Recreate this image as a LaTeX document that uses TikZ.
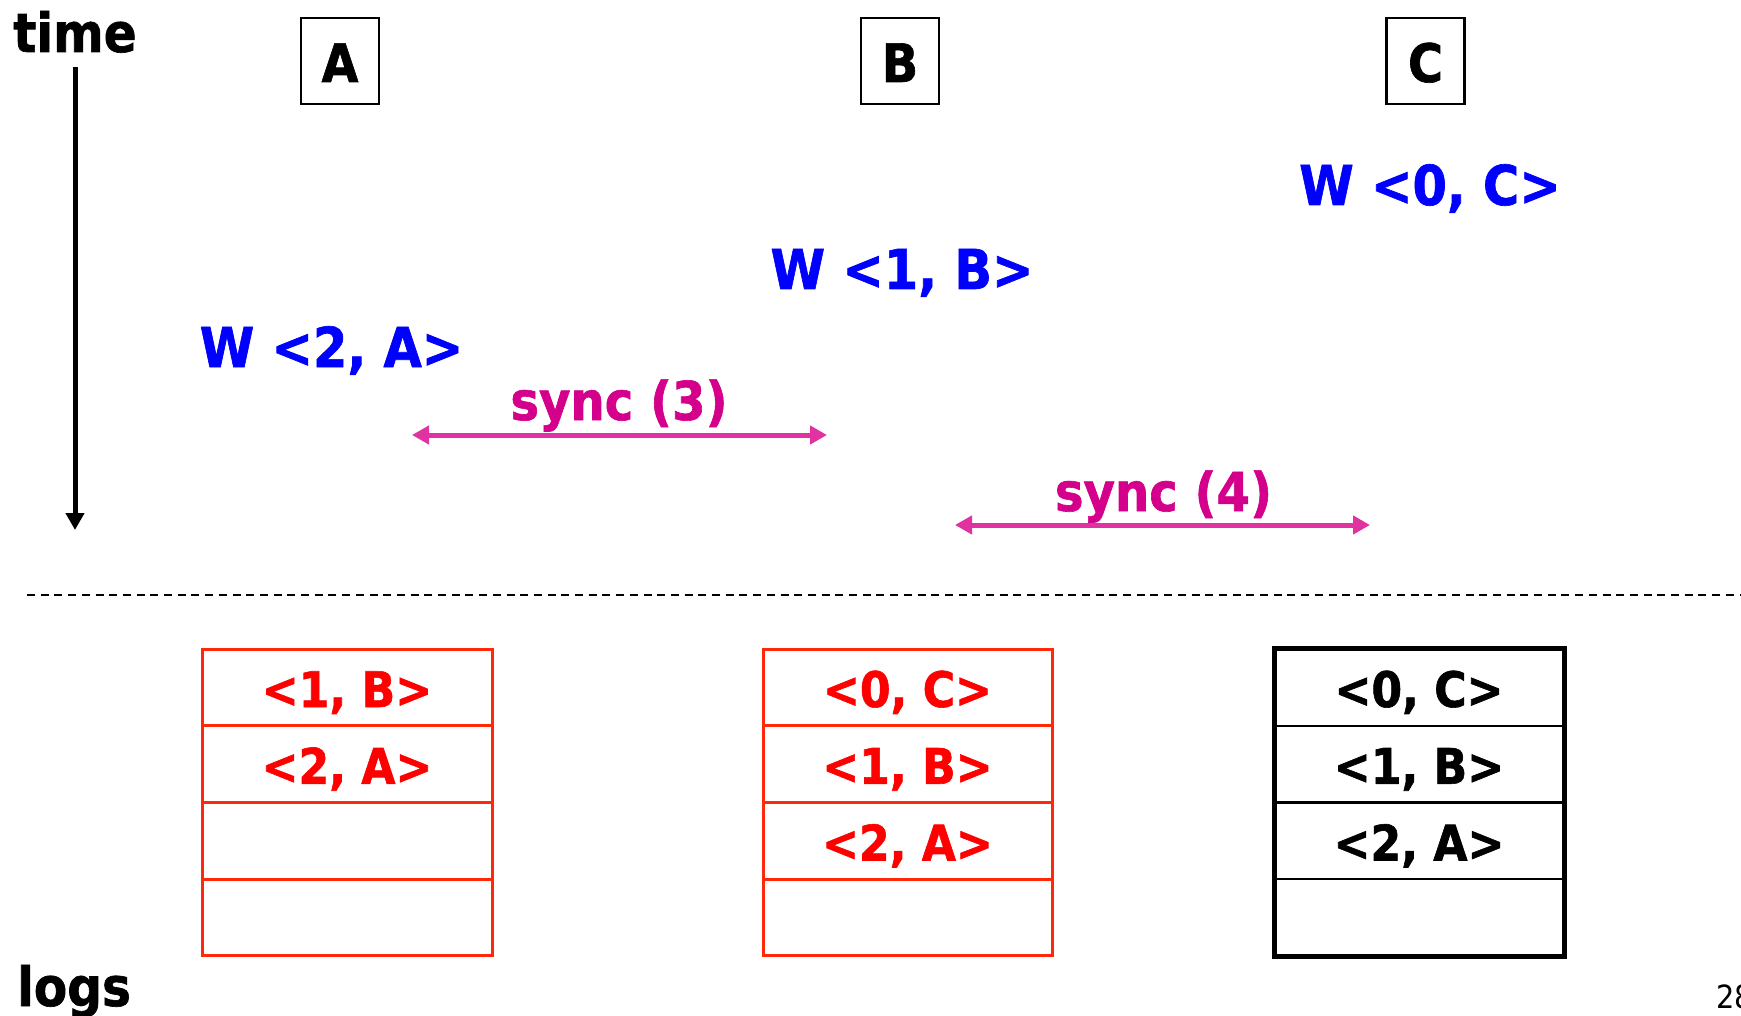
\documentclass[tikz,border=0pt]{standalone}
\usepackage{fontspec}
\setmainfont{DejaVu Sans}[FakeStretch=0.9, BoldFeatures={FakeBold=1.2}]
\usetikzlibrary{arrows.meta}
\definecolor{wblue}{RGB}{0,0,255}
\definecolor{synctxt}{RGB}{212,0,140}
\definecolor{syncarr}{RGB}{224,50,160}
\definecolor{redline}{RGB}{255,40,10}
\definecolor{redtxt}{RGB}{255,0,0}
\tikzset{
  big/.style={font=\bfseries\fontsize{54}{60}\selectfont, inner sep=0, anchor=base},
  hdrbox/.style={draw, line width=2.3pt, minimum width=78pt, minimum height=86pt, inner sep=0},
  hdrtxt/.style={font=\bfseries\fontsize{53}{60}\selectfont, inner sep=0, anchor=base},
  wtxt/.style={font=\bfseries\fontsize{55}{62}\selectfont, text=wblue, inner sep=0, anchor=base},
  synctext/.style={font=\bfseries\fontsize{53.5}{60}\selectfont, text=synctxt, inner sep=0, anchor=base},
  syncarrow/.style={draw=syncarr, line width=5pt, {Triangle[length=17pt,width=18pt]}-{Triangle[length=17pt,width=18pt]}},
  redcell/.style={draw=redline, line width=3pt, minimum height=76.75pt, inner sep=0},
  blkcell/.style={draw=black, line width=2pt, minimum height=76.75pt, inner sep=0},
  celltxt/.style={font=\bfseries\fontsize{49}{54}\selectfont, inner sep=0, anchor=base},
}
\begin{document}
\begin{tikzpicture}[x=1pt,y=-1pt]
\useasboundingbox (0,0) rectangle (1741,1016);
\fill[white] (0,0) rectangle (1741,1016);

% time axis
\node[big, anchor=base west] (time) at (13,52) {time};
\coordinate (t0) at (75,67);
\coordinate (t1) at (75,530);
\draw[line width=5pt, -{Triangle[length=17pt,width=18pt]}] (t0) -- (t1);

% process headers
\node[hdrbox] (A) at (340,61) {};
\node[hdrtxt] (Al) at (340,82) {A};
\node[hdrbox] (B) at (900,61) {};
\node[hdrtxt] (Bl) at (900,82) {B};
\node[hdrbox] (C) at (1425.5,61) {};
\node[hdrtxt] (Cl) at (1425.5,82) {C};

% writes
\node[wtxt] (w0) at (1430,205) {W <0, C>};
\node[wtxt] (w1) at (902,289) {W <1, B>};
\node[wtxt] (w2) at (331.5,367) {W <2, A>};

% syncs
\node[synctext] (s3) at (619,420) {sync (3)};
\coordinate (s3l) at (412,435);
\coordinate (s3r) at (827,435);
\draw[syncarrow] (s3l) -- (s3r);
\node[synctext] (s4) at (1163.5,511) {sync (4)};
\coordinate (s4l) at (955,525);
\coordinate (s4r) at (1370,525);
\draw[syncarrow] (s4l) -- (s4r);

% separator
\coordinate (dl) at (27,595);
\coordinate (dr) at (1741,595);
\draw[line width=2.6pt, dash pattern=on 8pt off 5.7pt] (dl) -- (dr);

% log of A
\node[redcell, minimum width=290pt] (a1) at (347,687.4) {};
\node[redcell, minimum width=290pt] (a2) at (347,764.1) {};
\node[redcell, minimum width=290pt] (a3) at (347,840.9) {};
\node[redcell, minimum width=290pt] (a4) at (347,917.6) {};
\node[celltxt, text=redtxt] (a1t) at (347,707) {<1, B>};
\node[celltxt, text=redtxt] (a2t) at (347,783.75) {<2, A>};

% log of B
\node[redcell, minimum width=289pt] (b1) at (907.5,687.4) {};
\node[redcell, minimum width=289pt] (b2) at (907.5,764.1) {};
\node[redcell, minimum width=289pt] (b3) at (907.5,840.9) {};
\node[redcell, minimum width=289pt] (b4) at (907.5,917.6) {};
\node[celltxt, text=redtxt] (b1t) at (907.5,707) {<0, C>};
\node[celltxt, text=redtxt] (b2t) at (907.5,783.75) {<1, B>};
\node[celltxt, text=redtxt] (b3t) at (907.5,860.5) {<2, A>};

% log of C
\node[blkcell, minimum width=288pt] (c1) at (1419,687.4) {};
\node[blkcell, minimum width=288pt] (c2) at (1419,764.1) {};
\node[blkcell, minimum width=288pt] (c3) at (1419,840.9) {};
\node[blkcell, minimum width=288pt] (c4) at (1419,917.6) {};
\draw[line width=5pt] (c1.north west) rectangle (c4.south east);
\node[celltxt] (c1t) at (1419,707) {<0, C>};
\node[celltxt] (c2t) at (1419,783.75) {<1, B>};
\node[celltxt] (c3t) at (1419,860.5) {<2, A>};

% bottom labels
\node[big, anchor=base west] (logs) at (17,1006) {logs};
\node[font=\fontsize{32}{38}\selectfont, inner sep=0, anchor=base west] (pg) at (1716,1008) {28};
\end{tikzpicture}
\end{document}
